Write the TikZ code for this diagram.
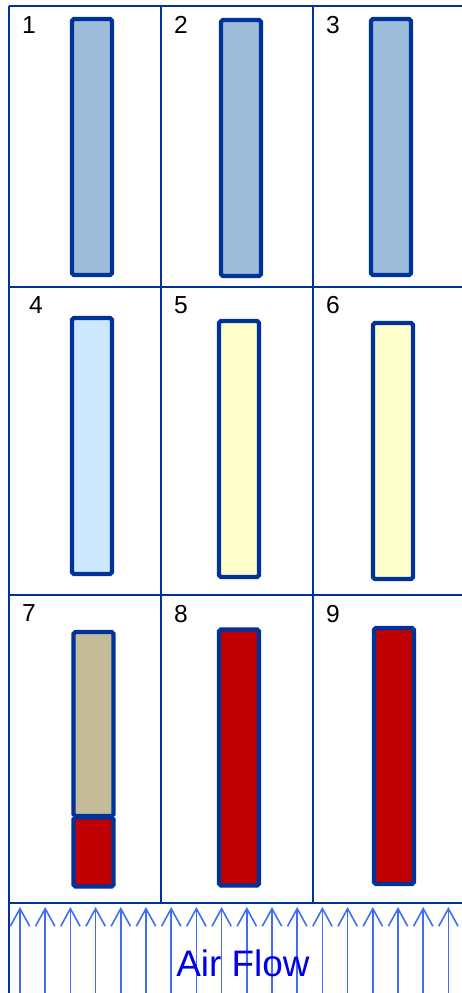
\documentclass[tikz,border=0pt]{standalone}
\usepackage{fontspec}
\setmainfont{Liberation Sans}
\usetikzlibrary{arrows.meta}

\definecolor{gridblue}{HTML}{003399}
\definecolor{steel}{HTML}{9DBCDA}
\definecolor{paleblue}{HTML}{CCE8FF}
\definecolor{paleyellow}{HTML}{FFFFCC}
\definecolor{tan}{HTML}{C4BC98}
\definecolor{hotred}{HTML}{C00000}
\definecolor{airblue}{HTML}{3D6EF5}
\definecolor{labelblue}{HTML}{0000E6}

\begin{document}
\begin{tikzpicture}[
    x=0.02cm,
    y=-0.02cm,
    gridline/.style={draw=gridblue, line width=1.1pt},
    bar/.style={
        rectangle,
        draw=gridblue,
        line width=2.4pt,
        rounded corners=1pt,
        minimum width=0.8cm,
        minimum height=5.12cm,
        inner sep=0pt
    },
    cellnum/.style={font=\fontsize{14}{16}\selectfont, inner sep=0pt},
    airarrow/.style={-{Straight Barb[length=10pt, width=11pt, line width=0.9pt]}, draw=airblue, line width=0.9pt}
]

\useasboundingbox (0,0) rectangle (462,993);

% grid
\draw[gridline] (9,6) -- (462,6);
\draw[gridline] (9,287) -- (462,287);
\draw[gridline] (9,595) -- (462,595);
\draw[gridline] (9,903) -- (462,903);
\draw[gridline] (9,6) -- (9,993);
\draw[gridline] (161,6) -- (161,903);
\draw[gridline] (313,6) -- (313,903);

% bars
\node[bar, fill=steel] (bar1) at (92,147) {};
\node[bar, fill=steel] (bar2) at (241,148) {};
\node[bar, fill=steel] (bar3) at (391,147) {};
\node[bar, fill=paleblue] (bar4) at (92,446) {};
\node[bar, fill=paleyellow] (bar5) at (239,449) {};
\node[bar, fill=paleyellow] (bar6) at (393,451) {};
\node[bar, fill=tan, minimum height=3.68cm] (bar7top) at (93.5,724) {};
\node[bar, fill=hotred, minimum height=1.38cm] (bar7low) at (93.5,852) {};
\node[bar, fill=hotred] (bar8) at (239,757.5) {};
\node[bar, fill=hotred] (bar9) at (394,756) {};

% cell numbers
\node[cellnum] (num1) at (29,25) {1};
\node[cellnum] (num2) at (181,25) {2};
\node[cellnum] (num3) at (333,25) {3};
\node[cellnum] (num4) at (36,305) {4};
\node[cellnum] (num5) at (181,305) {5};
\node[cellnum] (num6) at (333,305) {6};
\node[cellnum] (num7) at (29,613) {7};
\node[cellnum] (num8) at (181,614) {8};
\node[cellnum] (num9) at (333,614) {9};

% air flow
\foreach \i in {0,...,17} {
    \coordinate (airlow\i) at (20+25.2*\i,993);
    \coordinate (airtip\i) at (20+25.2*\i,907);
    \draw[airarrow] (airlow\i) -- (airtip\i);
}
\node[text=labelblue, font=\fontsize{21}{24}\selectfont, inner sep=0pt] (airlabel) at (243,963) {Air Flow};

\end{tikzpicture}
\end{document}
